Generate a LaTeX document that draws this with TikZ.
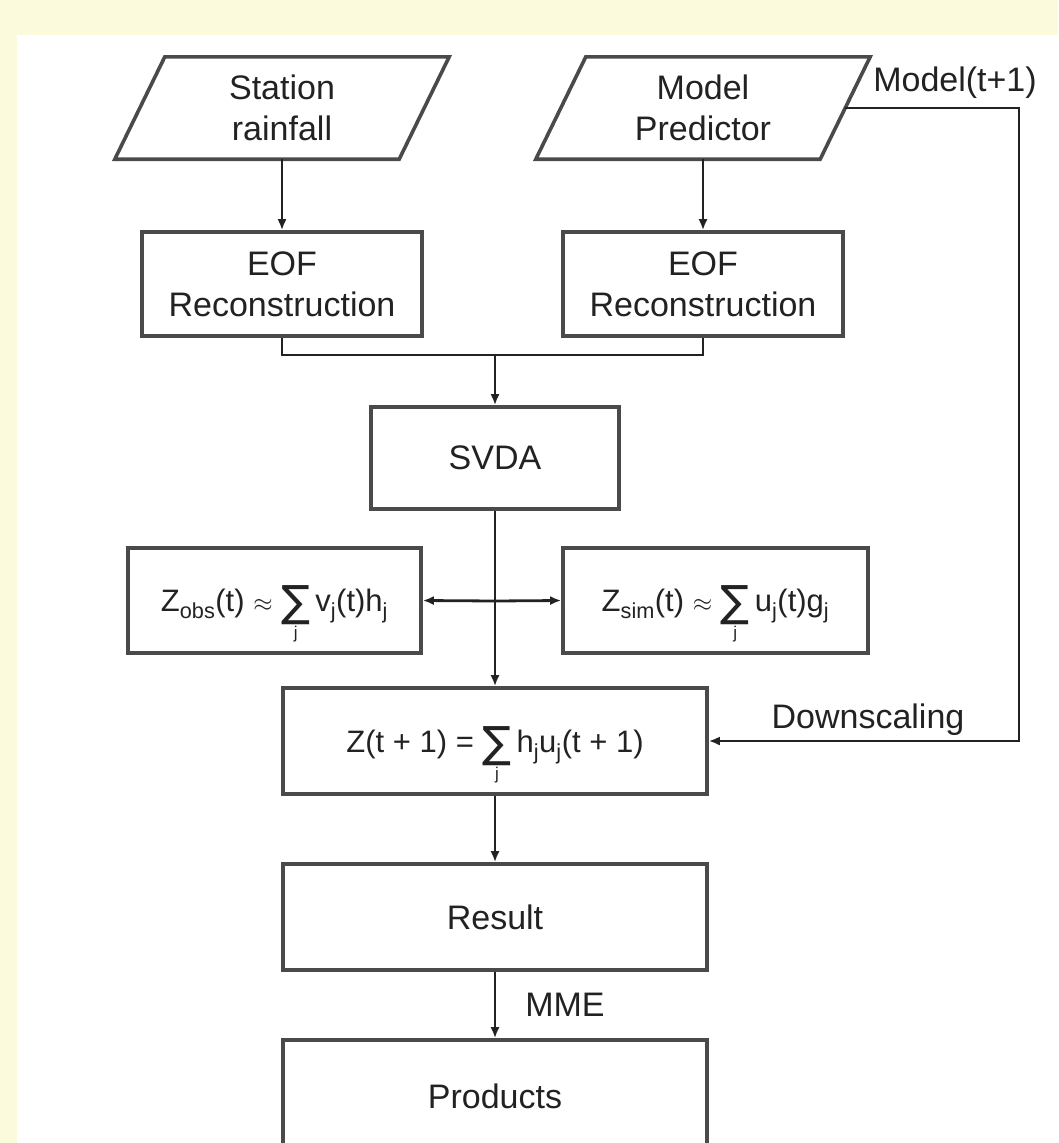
\documentclass[tikz,border=0pt]{standalone}
\usepackage{fontspec}
\setmainfont{Liberation Sans}
\newfontfamily\sumfont{DejaVu Sans}
\usetikzlibrary{arrows.meta,calc}
\definecolor{bgyellow}{HTML}{FCFADC}
\definecolor{boxline}{HTML}{4A4A4A}
\definecolor{connc}{HTML}{222222}
\definecolor{txt}{HTML}{222222}
\newcommand{\jsum}{\ensuremath{\mathop{\vcenter{\hbox{\sumfont\fontsize{43}{43}\selectfont ∑}}}\limits_{\hbox{\fontsize{17}{17}\selectfont j}}}}
\begin{document}
\begin{tikzpicture}[x=1pt,y=-1pt,
  box/.style={draw=boxline, line width=3.6pt, fill=white, inner sep=0pt, minimum height=104pt, align=center, text=txt, font=\fontsize{34}{41}\selectfont},
  para/.style={inner sep=0pt, minimum height=102pt, minimum width=284pt, align=center, text=txt, font=\fontsize{34}{41}\selectfont},
  paraline/.style={draw=boxline, line width=3.6pt, line join=miter},
  conn/.style={draw=connc, line width=2.8pt},
  arr/.style={conn, -{Latex[length=11pt,width=9pt]}},
  lbl/.style={text=txt, font=\fontsize{34}{41}\selectfont, inner sep=0pt},
  frm/.style={font=\fontsize{31}{37}\selectfont, text height=30pt, text depth=8pt}
]
\useasboundingbox (0,0) rectangle (1058,1143);
\clip (0,0) rectangle (1058,1143);
\fill[bgyellow] (0,0) rectangle (1058,1143);
\fill[white] (17,35) rectangle (1058,1143);

% input parallelograms
\node[para] (st) at (282,108) {Station\\rainfall};
\draw[paraline] ($(st.north west)+(25,0)$) -- ($(st.north east)+(25,0)$) -- ($(st.south east)+(-25,0)$) -- ($(st.south west)+(-25,0)$) -- cycle;
\node[para] (mp) at (703,108) {Model\\Predictor};
\draw[paraline] ($(mp.north west)+(25,0)$) -- ($(mp.north east)+(25,0)$) -- ($(mp.south east)+(-25,0)$) -- ($(mp.south west)+(-25,0)$) -- cycle;

% boxes
\node[box, minimum width=280pt] (e1) at (282,284) {EOF\\Reconstruction};
\node[box, minimum width=280pt] (e2) at (703,284) {EOF\\Reconstruction};
\node[box, minimum width=248pt, minimum height=102pt] (sv) at (495,458) {SVDA};
\node[box, minimum width=293pt, minimum height=105pt, frm] (zo) at (274.5,600.5)
  {Z\textsubscript{obs}(t) $\approx$ \jsum\,v\textsubscript{j}(t)h\textsubscript{j}};
\node[box, minimum width=305pt, minimum height=105pt, frm] (zs) at (715.5,600.5)
  {Z\textsubscript{sim}(t) $\approx$ \jsum\,u\textsubscript{j}(t)g\textsubscript{j}};
\node[box, minimum width=424pt, minimum height=106pt, frm] (zt) at (495,741)
  {Z(t + 1) = \jsum\,h\textsubscript{j}u\textsubscript{j}(t + 1)};
\node[box, minimum width=424pt, minimum height=106pt] (rs) at (495,917) {Result};
\node[box, minimum width=424pt, minimum height=112pt] (pr) at (495,1096) {Products};

% connectors
\coordinate (j1) at (495,355);
\coordinate (j2) at (495,601);
\coordinate (rx) at (1019,108);
\draw[arr] (st.south) -- (e1.north);
\draw[arr] (mp.south) -- (e2.north);
\draw[conn] (e1.south) |- (j1) -| (e2.south);
\draw[arr] (j1) -- (sv.north);
\draw[arr] (sv.south) -- (zt.north);
\draw[arr] (j2) -- (zo.east);
\draw[arr] (j2) -- (zs.west);
\draw[arr] (mp.east) -- (rx) |- (zt.east);
\draw[arr] (zt.south) -- (rs.north);
\draw[arr] (rs.south) -- (pr.north);

% labels
\node[lbl] (lm) at (955,83) {Model(t+1)};
\node[lbl] (ld) at (868,720) {Downscaling};
\node[lbl] (lme) at (565,1005) {MME};
\end{tikzpicture}
\end{document}
